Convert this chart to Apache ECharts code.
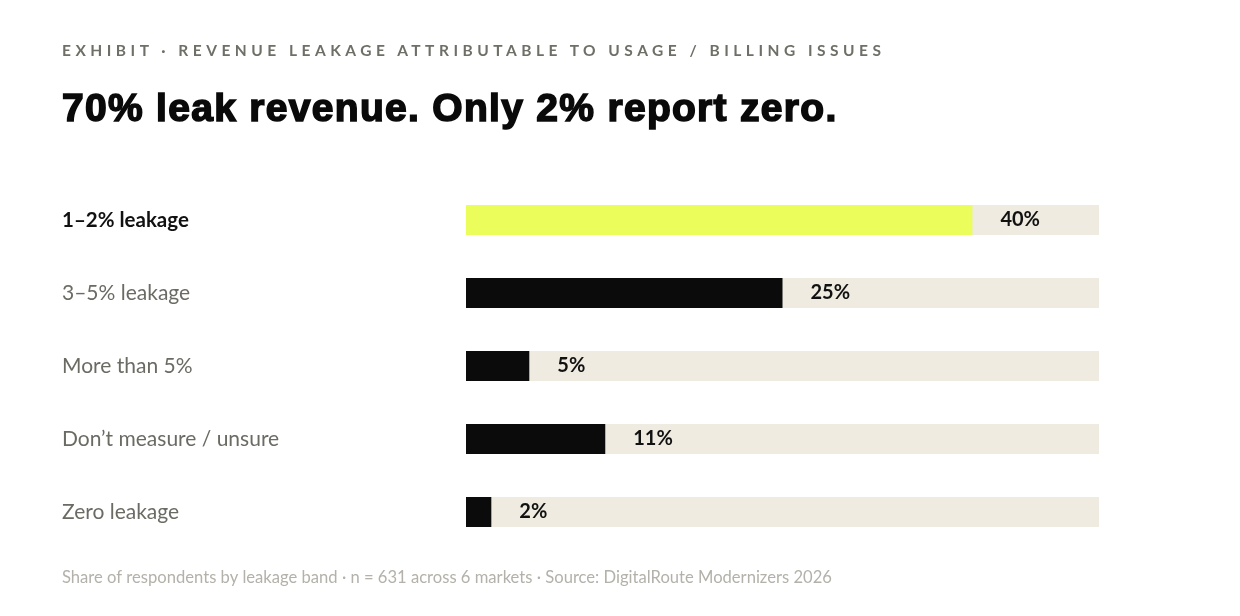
<!DOCTYPE html>
<html>
<head>
<meta charset="utf-8">
<script src="https://cdn.jsdelivr.net/npm/echarts@6/dist/echarts.min.js"></script>
<style>
  html, body { margin: 0; padding: 0; background: #fff; }
  #wrap { position: relative; width: 1240px; height: 616px; }
  #chart { width: 1240px; height: 616px; }
  .eyebrow {
    position: absolute; left: 62px; top: 41px;
    font-family: Lato, sans-serif; font-weight: 700; font-size: 15.5px;
    letter-spacing: 4.5px; color: #6f6f68; white-space: nowrap;
  }
  .headline {
    position: absolute; left: 62px; top: 86px;
    font-family: "Liberation Sans", Arial, sans-serif; font-weight: 700; font-size: 39px;
    letter-spacing: 1.3px; color: #0a0a0a; white-space: nowrap;
    -webkit-text-stroke: 1.6px #0a0a0a;
  }
</style>
</head>
<body>
<div id="wrap">
  <div id="chart"></div>
  <div class="eyebrow">EXHIBIT · REVENUE LEAKAGE ATTRIBUTABLE TO USAGE / BILLING ISSUES</div>
  <div class="headline">70% leak revenue. Only 2% report zero.</div>
</div>
<script>
// 数据
var bands = ["1–2% leakage", "3–5% leakage", "More than 5%", "Don’t measure / unsure", "Zero leakage"];
var shares = [40, 25, 5, 11, 2];
var axisMax = 50;

var bodyFont = "Lato, 'Open Sans', sans-serif";

(function() {
    var myChart = echarts.init(document.getElementById("chart"));
    var option = {
        animation: false,
        title: {
            text: "Share of respondents by leakage band · n = 631 across 6 markets · Source: DigitalRoute Modernizers 2026",
            left: 62,
            top: 569,
            padding: 0,
            textStyle: {
                fontFamily: bodyFont,
                fontWeight: 400,
                fontSize: 16.6,
                color: "#b3b1aa"
            }
        },
        grid: {
            left: 466,
            right: 141,
            top: 183.5,
            bottom: 67.5
        },
        xAxis: {
            type: "value",
            min: 0,
            max: axisMax,
            show: false
        },
        yAxis: {
            type: "category",
            data: bands,
            inverse: true,
            axisLine: { show: false },
            axisTick: { show: false },
            splitLine: { show: false },
            axisLabel: {
                align: "left",
                margin: 404,
                fontFamily: bodyFont,
                fontSize: 21,
                color: "#6b6b64",
                formatter: function(v, i) {
                    return i === 0 ? "{hi|" + v + "}" : v;
                },
                rich: {
                    hi: {
                        fontFamily: bodyFont,
                        fontSize: 20.5,
                        fontWeight: 700,
                        color: "#111"
                    }
                }
            }
        },
        series: [{
            type: "bar",
            data: shares.map(function(v, i) {
                return {
                    value: v,
                    itemStyle: { color: i === 0 ? "#ebfd5a" : "#0b0b0b" }
                };
            }),
            barWidth: 30,
            showBackground: true,
            backgroundStyle: { color: "#efebe0" },
            label: {
                show: true,
                position: "right",
                distance: 28,
                formatter: "{c}%",
                fontFamily: bodyFont,
                fontWeight: 700,
                fontSize: 20,
                color: "#111"
            }
        }]
    };
    myChart.setOption(option);
}());
</script>
</body>
</html>
